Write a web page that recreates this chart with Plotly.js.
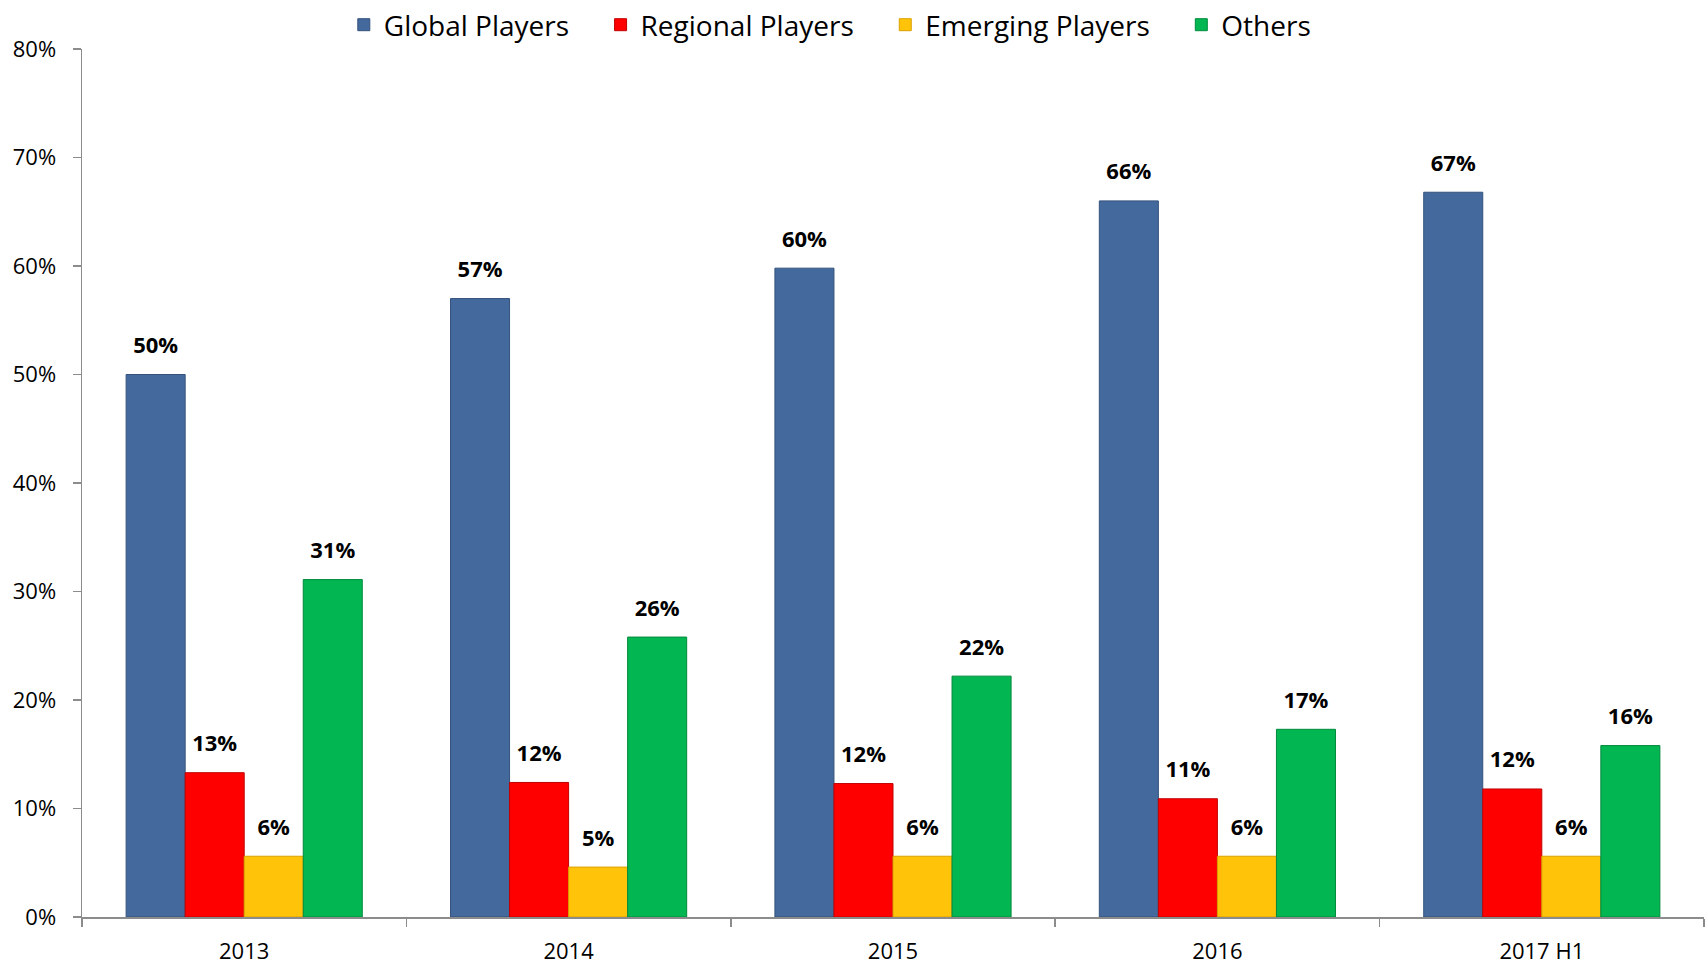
<!DOCTYPE html>
<html>
<head>
<meta charset="utf-8">
<script src="https://cdn.plot.ly/plotly-3.0.1.min.js"></script>
<style>html,body{margin:0;padding:0;background:#fff;}#chart{width:1706px;height:965px;}</style>
</head>
<body>
<div id="chart"></div>
<script>
const categories = ["2013", "2014", "2015", "2016", "2017 H1"];
const seriesNames = ["Global Players", "Regional Players", "Emerging Players", "Others"];
const globalPlayers = [0.500, 0.570, 0.598, 0.660, 0.668];
const regionalPlayers = [0.133, 0.124, 0.123, 0.109, 0.118];
const emergingPlayers = [0.056, 0.046, 0.056, 0.056, 0.056];
const others = [0.311, 0.258, 0.222, 0.173, 0.158];
const yTickVals = [0, 0.1, 0.2, 0.3, 0.4, 0.5, 0.6, 0.7, 0.8];
const yTickText = ["0%", "10%", "20%", "30%", "40%", "50%", "60%", "70%", "80%"];

const seriesValues = [globalPlayers, regionalPlayers, emergingPlayers, others];
const colors = ["#44699C", "#FF0000", "#FFC40A", "#02B652"];
const edgeColors = ["#34527C", "#C00000", "#D9A000", "#018A3C"];
const font = "'Open Sans', 'Liberation Sans', sans-serif";
const pad = "\u00a0\u00a0\u00a0\u2009";

const traces = [];
seriesValues.forEach((vals, i) => {
  traces.push({
    type: "bar",
    name: seriesNames[i] + (i < seriesNames.length - 1 ? pad : ""),
    x: categories,
    y: vals,
    offsetgroup: "g" + i,
    marker: {color: colors[i], line: {color: edgeColors[i], width: 1}},
    hoverinfo: "skip"
  });
});
seriesValues.forEach((vals, i) => {
  traces.push({
    type: "scatter",
    mode: "markers+text",
    x: categories,
    y: vals,
    offsetgroup: "g" + i,
    showlegend: false,
    marker: {size: 24, opacity: 0, color: colors[i]},
    texttemplate: "%{y:.0%}",
    textposition: "top center",
    textfont: {family: font, size: 22, color: "#000000", weight: 700},
    hoverinfo: "skip",
    cliponaxis: false
  });
});

const layout = {
  width: 1706,
  height: 965,
  autosize: false,
  margin: {l: 82, r: 2, t: 49, b: 48, pad: 0, autoexpand: false},
  paper_bgcolor: "#ffffff",
  plot_bgcolor: "#ffffff",
  barmode: "group",
  scattermode: "group",
  bargap: 0.272,
  bargroupgap: 0,
  scattergap: 0.272,
  font: {family: font, color: "#000000"},
  showlegend: true,
  legend: {
    orientation: "h",
    xref: "container",
    yref: "container",
    x: 0.4864,
    xanchor: "center",
    y: 1,
    yanchor: "top",
    font: {family: font, size: 28, color: "#000000"},
    traceorder: "normal",
    bgcolor: "rgba(0,0,0,0)"
  },
  xaxis: {
    type: "category",
    showline: true,
    linecolor: "#8C8C8C",
    linewidth: 1.5,
    ticks: "outside",
    tickson: "boundaries",
    ticklen: 8,
    tickcolor: "#8C8C8C",
    tickwidth: 1.5,
    showgrid: false,
    zeroline: false,
    tickfont: {family: font, size: 22, color: "#000000"},
    ticklabelstandoff: 14,
    fixedrange: true
  },
  yaxis: {
    range: [0, 0.8],
    tickvals: yTickVals,
    ticktext: yTickText,
    showline: true,
    linecolor: "#8C8C8C",
    linewidth: 1.5,
    ticks: "outside",
    ticklen: 8,
    tickcolor: "#8C8C8C",
    tickwidth: 1.5,
    showgrid: false,
    zeroline: false,
    tickfont: {family: font, size: 22, color: "#000000"},
    ticklabelstandoff: 12,
    fixedrange: true
  }
};

Plotly.newPlot("chart", traces, layout, {displayModeBar: false, staticPlot: true});
</script>
</body>
</html>
